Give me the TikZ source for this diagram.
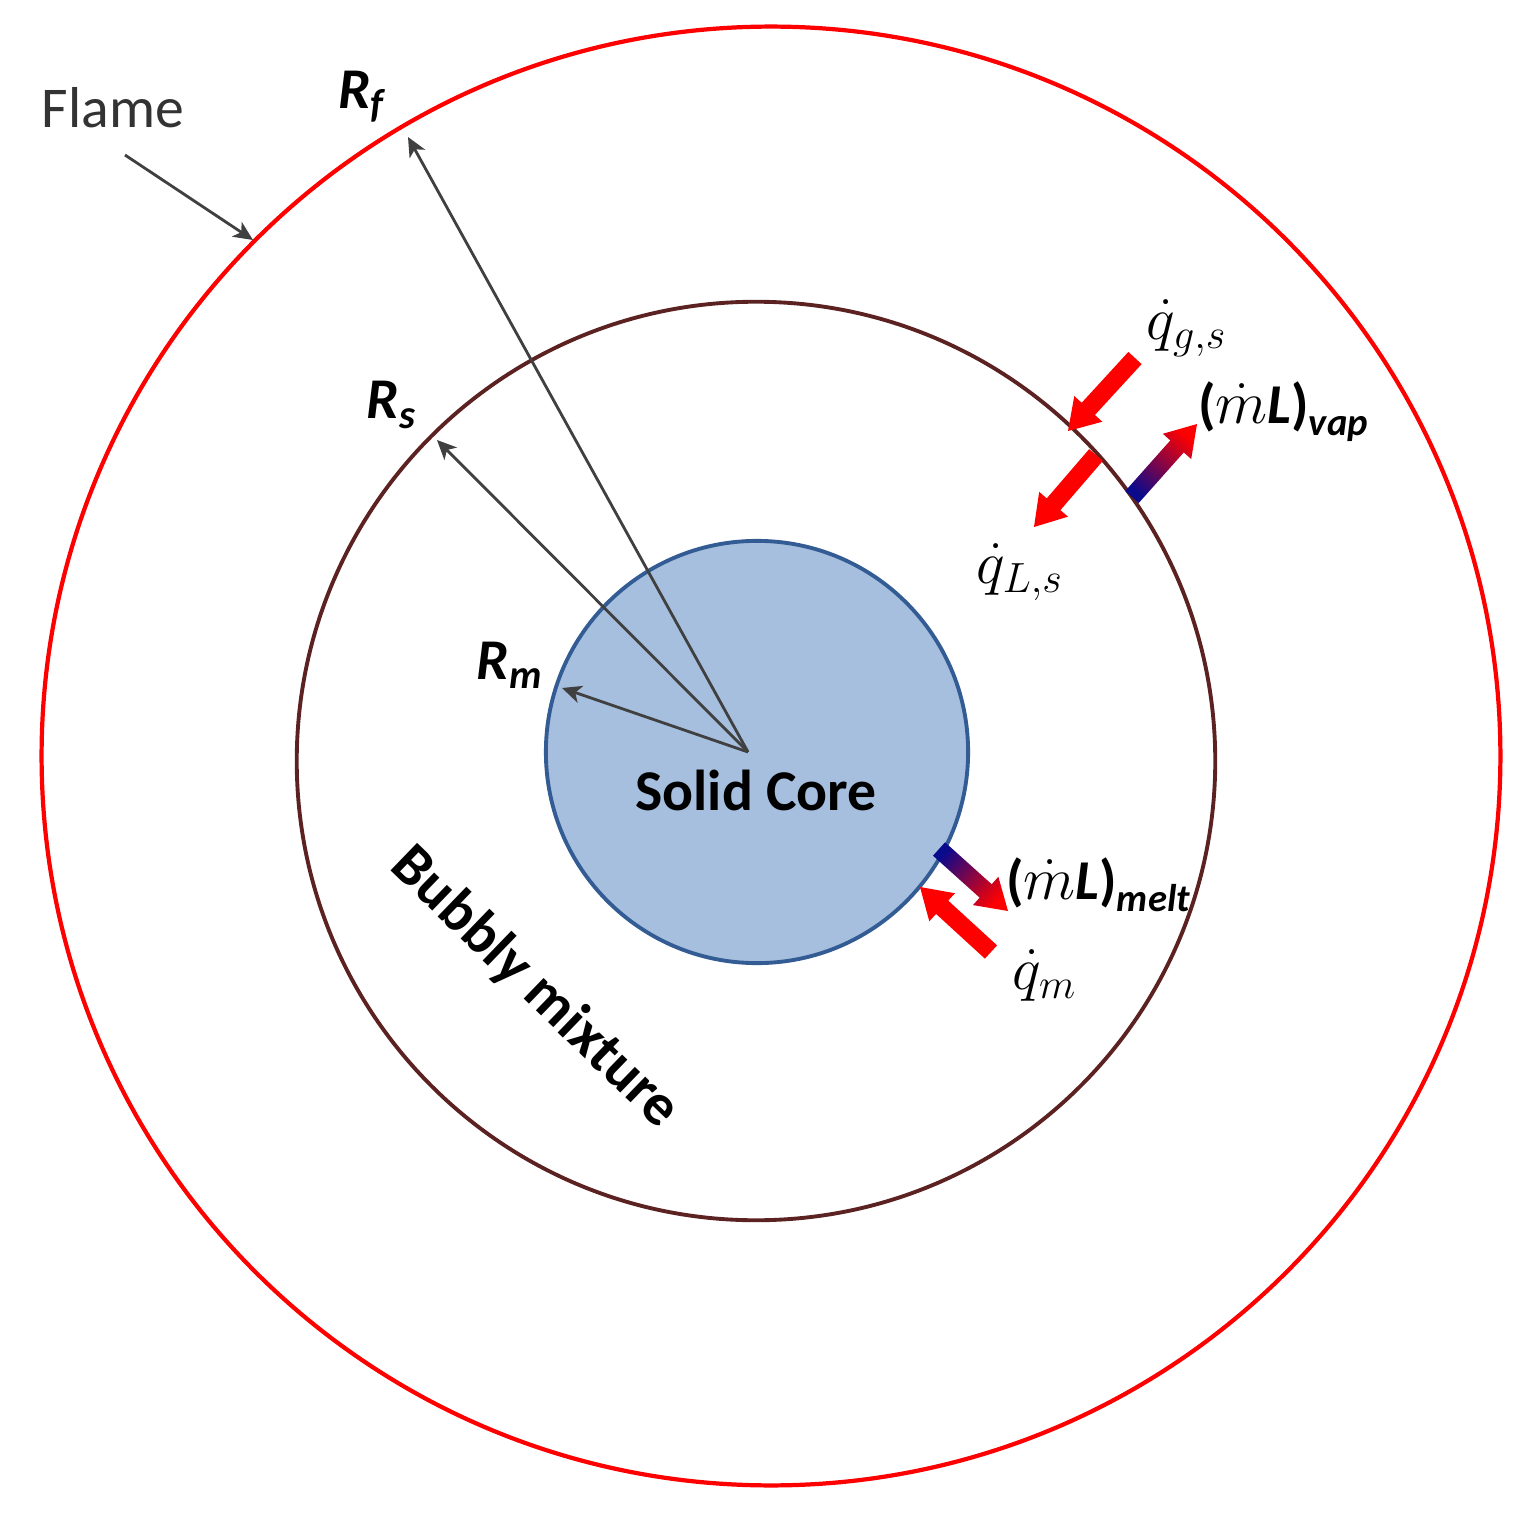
\documentclass[tikz,border=0pt]{standalone}
\usepackage{fontspec}
\setmainfont{Carlito}
\usetikzlibrary{calc,arrows.meta}
\definecolor{flamered}{RGB}{255,0,0}
\definecolor{surfbrown}{RGB}{92,34,34}
\definecolor{corefill}{RGB}{166,191,223}
\definecolor{coreline}{RGB}{52,92,148}
\definecolor{vapblue}{RGB}{10,10,140}
\newcommand{\shaftw}{0.09cm}
\newcommand{\headw}{0.19cm}
\newcommand{\headl}{0.30cm}
% fat arrow as a closed outline: #1 style, #2 tail, #3 tip
\newcommand{\fatarrow}[3]{%
  \coordinate (neck) at ($(#3)!\headl!(#2)$);
  \path[#1] ($(#2)!\shaftw!90:(#3)$) -- ($(neck)!\shaftw!-90:(#2)$)
    -- ($(neck)!\headw!-90:(#2)$) -- (#3) -- ($(neck)!\headw!90:(#2)$)
    -- ($(neck)!\shaftw!90:(#2)$) -- ($(#2)!\shaftw!-90:(#3)$) -- cycle;
}
\tikzset{
  radius line/.style={->, draw=black!75, line width=0.8pt},
  rlabel/.style={font=\fontsize{16.4}{19}\selectfont\bfseries\itshape},
  qlabel/.style={font=\fontsize{18}{21}\selectfont},
  mlabel/.style={font=\fontsize{16}{19}\selectfont\bfseries},
  heat/.style={fill=flamered},
  mass/.style={bottom color=vapblue, top color=flamered}
}
\begin{document}
\begin{tikzpicture}[x=0.01cm, y=-0.01cm, >={Stealth[length=5.5pt, width=5pt, inset=1.5pt]}, font=\fontsize{16.4}{19}\selectfont]
  \useasboundingbox[fill=white] (0,0) rectangle (1526,1518);
  % the three spheres
  \draw[flamered, line width=1.2pt] (771,756) circle[radius=7.29cm];
  \draw[surfbrown, line width=1.1pt] (756,761) circle[radius=4.59cm];
  \node[circle, draw=coreline, fill=corefill, line width=1.1pt, minimum size=4.22cm, inner sep=0pt] (core) at (757,752) {};
  \node[font=\fontsize{16.4}{19}\selectfont\bfseries] (corelabel) at (756,790) {Solid Core};
  \node[font=\fontsize{16.8}{19}\selectfont\bfseries, rotate=-44] (bubbly) at (535,988) {Bubbly mixture};

  % radii
  \coordinate (o) at (748,752);
  \coordinate (rf) at (408,137);
  \coordinate (rs) at (437,440);
  \coordinate (rm) at (562,688);
  \draw[radius line] (o) -- (rf);
  \draw[radius line] (o) -- (rs);
  \draw[radius line] (o) -- (rm);
  \node[rlabel] (rflabel) at (362,97) {R\textsubscript{f}};
  \node[rlabel] (rslabel) at (392,405) {R\textsubscript{s}};
  \node[rlabel] (rmlabel) at (510,665) {R\textsubscript{m}};

  % flame pointer
  \node[text=black!80] (flame) at (113,108) {Flame};
  \coordinate (flametail) at (125,155);
  \coordinate (flamept) at (253,240);
  \draw[radius line] (flametail) -- (flamept);

  % fluxes at the surface
  \coordinate (gstail) at (1135,358);  \coordinate (gstip) at (1068,431);
  \coordinate (lstail) at (1096,455);  \coordinate (lstip) at (1034,527);
  \coordinate (vaptail) at (1132,497); \coordinate (vaptip) at (1197,424);
  \fatarrow{heat}{gstail}{gstip}
  \fatarrow{heat}{lstail}{lstip}
  \fatarrow{mass, shading angle=-41}{vaptail}{vaptip}
  \node[qlabel] (qgs) at (1187,328) {$\dot{q}_{g,s}$};
  \node[qlabel] (qls) at (1020,572) {$\dot{q}_{L,s}$};
  \node[mlabel] (vap) at (1283,412) {(\textmd{$\dot{m}$}\textit{L})\raisebox{-0.45ex}{\fontsize{11}{13}\selectfont\itshape vap}};

  % fluxes at the melt front
  \coordinate (melttail) at (939,849); \coordinate (melttip) at (1008,911);
  \coordinate (qmtail) at (991,952);   \coordinate (qmtip) at (920,887);
  \fatarrow{mass, shading angle=-132}{melttail}{melttip}
  \fatarrow{heat}{qmtail}{qmtip}
  \node[mlabel] (melt) at (1098,885) {(\textmd{$\dot{m}$}\textit{L})\raisebox{-0.45ex}{\fontsize{11}{13}\selectfont\itshape melt}};
  \node[qlabel] (qm) at (1045,975) {$\dot{q}_{m}$};
\end{tikzpicture}
\end{document}
